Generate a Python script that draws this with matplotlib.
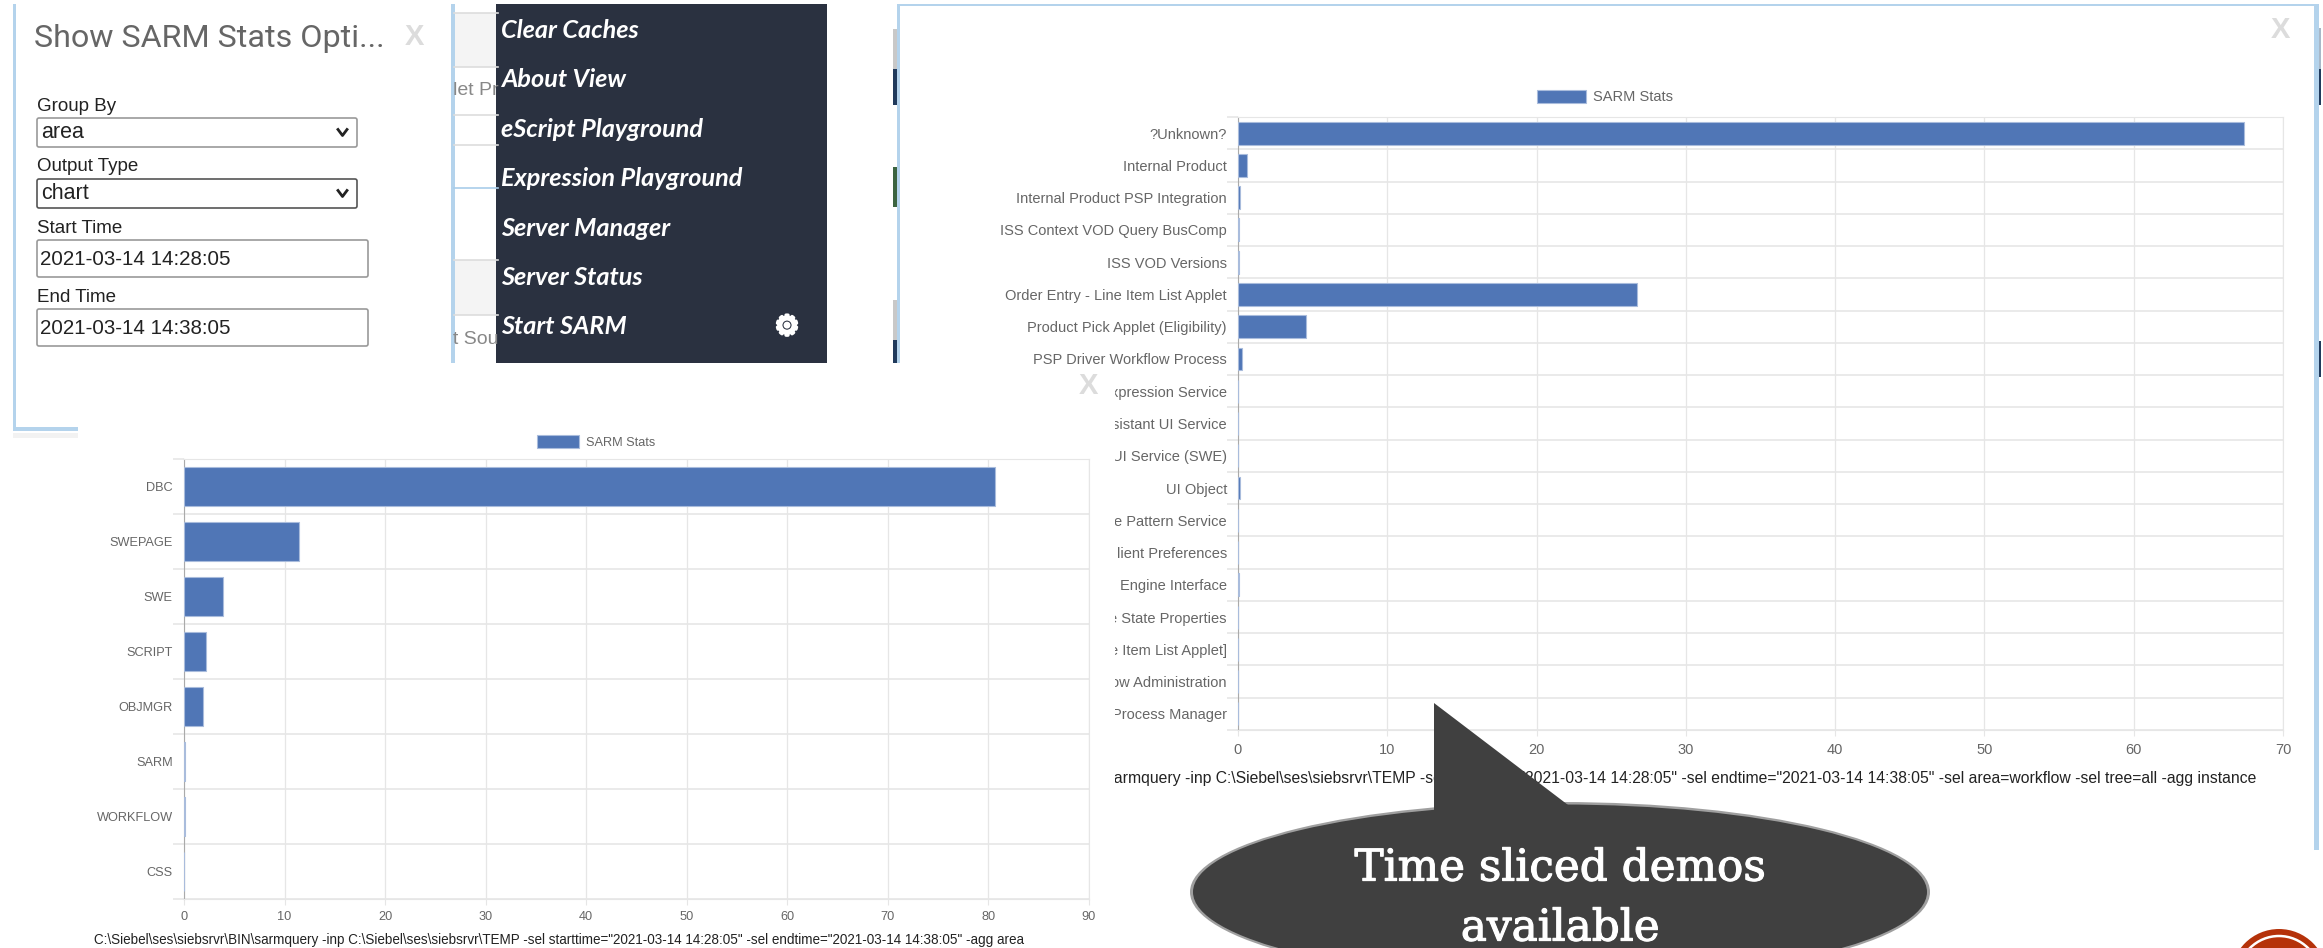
import matplotlib
matplotlib.use("Agg")
import matplotlib.pyplot as plt
import matplotlib.patheffects as pe
from matplotlib.patches import Rectangle, Ellipse, Polygon, Circle, FancyBboxPatch

W, H = 2323, 948

# left chart (grouped by area)
area_names = ["DBC", "SWEPAGE", "SWE", "SCRIPT", "OBJMGR", "SARM", "WORKFLOW", "CSS"]
area_values = [80.7, 11.4, 3.9, 2.2, 1.85, 0.1, 0.05, 0.02]
area_ticks = [0, 10, 20, 30, 40, 50, 60, 70, 80, 90]
area_cmd = ('C:\\Siebel\\ses\\siebsrvr\\BIN\\sarmquery -inp C:\\Siebel\\ses\\siebsrvr\\TEMP '
            '-sel starttime="2021-03-14 14:28:05" -sel endtime="2021-03-14 14:38:05" -agg area')

# right chart (workflow instances), long labels are partly hidden by the left panel
wf_names = ["?Unknown?", "Internal Product", "Internal Product PSP Integration",
            "ISS Context VOD Query BusComp", "ISS VOD Versions",
            "Order Entry - Line Item List Applet", "Product Pick Applet (Eligibility)",
            "PSP Driver Workflow Process", "xpression Service", "sistant UI Service",
            "UI Service (SWE)", "UI Object", "e Pattern Service", "lient Preferences",
            "Engine Interface", "e State Properties", "e Item List Applet]",
            "ow Administration", "Process Manager"]
wf_values = [67.4, 0.6, 0.15, 0.05, 0.05, 26.7, 4.55, 0.25, 0, 0, 0, 0.15, 0, 0.02, 0.05, 0, 0, 0, 0]
wf_ticks = [0, 10, 20, 30, 40, 50, 60, 70]
wf_cmd = ('sarmquery -inp C:\\Siebel\\ses\\siebsrvr\\TEMP -sel starttime="2021-03-14 14:28:05" '
          '-sel endtime="2021-03-14 14:38:05" -sel area=workflow -sel tree=all -agg instance')

menu_items = ["Clear Caches", "About View", "eScript Playground", "Expression Playground",
              "Server Manager", "Server Status", "Start SARM"]

BLUE = "#5076b6"
GRID = "#e6e6e6"
TXT = "#666666"
EDGE = "#b4d3ec"

plt.rcParams["font.family"] = ["Liberation Sans", "DejaVu Sans"]
fig = plt.figure(figsize=(W / 100, H / 100), dpi=100, facecolor="white")


def overlay(z):
    ax = fig.add_axes([0, 0, 1, 1], zorder=z)
    ax.set_xlim(0, W)
    ax.set_ylim(H, 0)
    ax.axis("off")
    ax.patch.set_alpha(0)
    return ax


def box(ax, x0, y0, x1, y1, **kw):
    kw.setdefault("lw", 0)
    ax.add_patch(Rectangle((x0, y0), x1 - x0, y1 - y0, **kw))


def bar_chart(z, x0, y0, x1, y1, names, values, ticks, xmax, fs, legend_xy, handle):
    ax = fig.add_axes([x0 / W, 1 - y1 / H, (x1 - x0) / W, (y1 - y0) / H], zorder=z)
    pos = list(range(len(names)))
    ax.barh(pos, values, height=0.71, color=BLUE, edgecolor="#a9bcdc", lw=0.8, label="SARM Stats", zorder=3)
    ax.set_xlim(0, xmax)
    ax.set_ylim(len(names) - 0.5, -0.5)
    ax.set_xticks(ticks)
    ax.set_yticks(pos, names)
    ax.set_yticks([p - 0.5 for p in pos] + [len(names) - 0.5], minor=True)
    ax.tick_params(axis="x", length=4, color=GRID, labelcolor=TXT, labelsize=fs, pad=5)
    ax.tick_params(axis="y", which="major", length=0, labelcolor=TXT, labelsize=fs, pad=8)
    ax.tick_params(axis="y", which="minor", length=8, color=GRID, width=1.2)
    ax.grid(True, axis="x", color=GRID, lw=0.9, zorder=0)
    ax.grid(True, axis="y", which="minor", color=GRID, lw=1.2, zorder=0)
    for s in ["top", "right", "bottom"]:
        ax.spines[s].set_color(GRID)
    ax.spines["left"].set_color("#aaaaaa")
    ax.legend(loc="center", bbox_to_anchor=legend_xy, bbox_transform=top.transData, frameon=False,
              fontsize=fs, handlelength=handle[0] * 0.72 / fs, handleheight=handle[1] * 0.72 / fs,
              handletextpad=0.5, borderpad=0, labelcolor=TXT)
    return ax


top = overlay(10)
bg = overlay(0)

# page behind the dialogs
box(bg, 454, 13, 498, 67, color="#f4f4f4")
box(bg, 454, 260, 498, 315, color="#f4f4f4")
for y, c in [(13, "#dddddd"), (67, "#dddddd"), (115, "#dddddd"), (145, "#dddddd"), (188, "#a9cdea"),
             (260, "#dddddd"), (315, "#dddddd")]:
    bg.plot([454, 498], [y, y], color=c, lw=1.2)
bg.text(453, 90, "let Pr", fontsize=14, color="#888888", va="center")
bg.text(453, 340, "t Sou", fontsize=14, color="#888888", va="center")
box(bg, 451, 4, 455, 363, color=EDGE)

# options dialog
box(bg, 14, 4, 451, 429, color="white")
box(bg, 13, 4, 16, 429, color=EDGE)
box(bg, 13, 427, 78, 431, color=EDGE)
box(bg, 13, 433, 78, 438, color="#f2f2f2")
bg.text(34, 38, "Show SARM Stats Opti...", fontsize=23.2, family="Roboto", color="#666666", va="center")
bg.text(414, 37, "X", fontsize=21, weight="bold", color="#dcdcdc", ha="center", va="center")

for label, y in [("Group By", 106), ("Output Type", 166), ("Start Time", 228), ("End Time", 297)]:
    bg.text(37, y, label, fontsize=13.5, color="#222222", va="center")
for val, y0, y1, dark in [("area", 118, 147, "#999999"), ("chart", 179, 208, "#555555")]:
    bg.add_patch(FancyBboxPatch((37, y0), 320, y1 - y0, boxstyle="round,pad=0,rounding_size=2",
                                fc="white", ec=dark, lw=1.2))
    bg.text(41, (y0 + y1) / 2, val, fontsize=15.5, color="#222222", va="center")
    ym = (y0 + y1) / 2
    bg.plot([338, 342.5, 347], [ym - 3, ym + 3, ym - 3], color="#222222", lw=2)
for val, y0, y1 in [("2021-03-14 14:28:05", 240, 277), ("2021-03-14 14:38:05", 309, 346)]:
    bg.add_patch(FancyBboxPatch((37, y0), 331, y1 - y0, boxstyle="round,pad=0,rounding_size=2",
                                fc="white", ec="#999999", lw=1.2))
    bg.text(40, (y0 + y1) / 2 + 1, val, fontsize=14.8, color="#222222", va="center")

# dark menu
box(bg, 496, 4, 827, 363, color="#2a3140")
for i, item in enumerate(menu_items):
    bg.text(501, 30 + i * 49.5, item, fontsize=18.2, color="white", va="center", style="italic",
            weight="bold", family="Lato")
bg.text(787, 327, "\u2699", fontsize=20, color="white", ha="center", va="center", family="DejaVu Sans",
        path_effects=[pe.withStroke(linewidth=2, foreground="white")])

# slivers of the page left and right of the big dialog
for y0, y1, c in [(29, 69, "#c8c8c8"), (69, 105, "#203a5c"), (167, 207, "#3c6440"), (300, 340, "#c8c8c8"), (340, 363, "#203a5c")]:
    box(bg, 893, y0, 897, y1, color=c)
for y0, y1, c in [(28, 69, "#a8b8c8"), (69, 105, "#203a5c"), (341, 377, "#203a5c")]:
    box(bg, 2316, y0, 2321, y1, color=c)
box(bg, 897, 4, 900, 363, color=EDGE)
box(bg, 897, 4, 2316, 6, color=EDGE)
box(bg, 2314, 4, 2319, 850, color=EDGE)
bg.text(2280, 30, "X", fontsize=21, weight="bold", color="#dcdcdc", ha="center", va="center")

# right chart
ax_wf = bar_chart(1, 1238, 117, 2283, 730, wf_names, wf_values, wf_ticks, 70, 10.5, (1605, 97), (49, 15))
ax_wf.text(2256, 779, wf_cmd, transform=top.transData, fontsize=11.35, color="#222222", ha="right", va="center")

# left chart panel covers the right chart's labels
mid = overlay(2)
box(mid, 78, 368, 1115, 948, color="white")
mid.text(1088, 386, "X", fontsize=21, weight="bold", color="#dcdcdc", ha="center", va="center")
ax_area = bar_chart(3, 184, 459, 1089, 899, area_names, area_values, area_ticks, 90, 9.2, (596, 442), (42, 14))
ax_area.text(94, 940, area_cmd, transform=top.transData, fontsize=9.72, color="#222222", va="center")

# callout
DARK = "#404040"
top.add_patch(Ellipse((1560, 892), 740, 180, fc=DARK, ec="none", alpha=0.5))
top.add_patch(Ellipse((1560, 892), 734, 175, fc=DARK, ec="none"))
top.add_patch(Polygon([(1434, 703), (1434, 812), (1572, 808)], fc=DARK, ec="none"))
stroke = [pe.withStroke(linewidth=0.8, foreground="white")]
top.text(1560, 868, "Time sliced demos", fontsize=31.5, family="DejaVu Serif", color="white", ha="center",
         va="center", path_effects=stroke)
top.text(1560, 928, "available", fontsize=31.5, family="DejaVu Serif", color="white", ha="center",
         va="center", path_effects=stroke)

# logo corner
top.add_patch(Circle((2279, 977), 48, fc="#b5320a", ec="none"))
top.add_patch(Circle((2279, 977), 41, fc="none", ec="white", lw=1.8))

fig.savefig("out.png", dpi=100)
